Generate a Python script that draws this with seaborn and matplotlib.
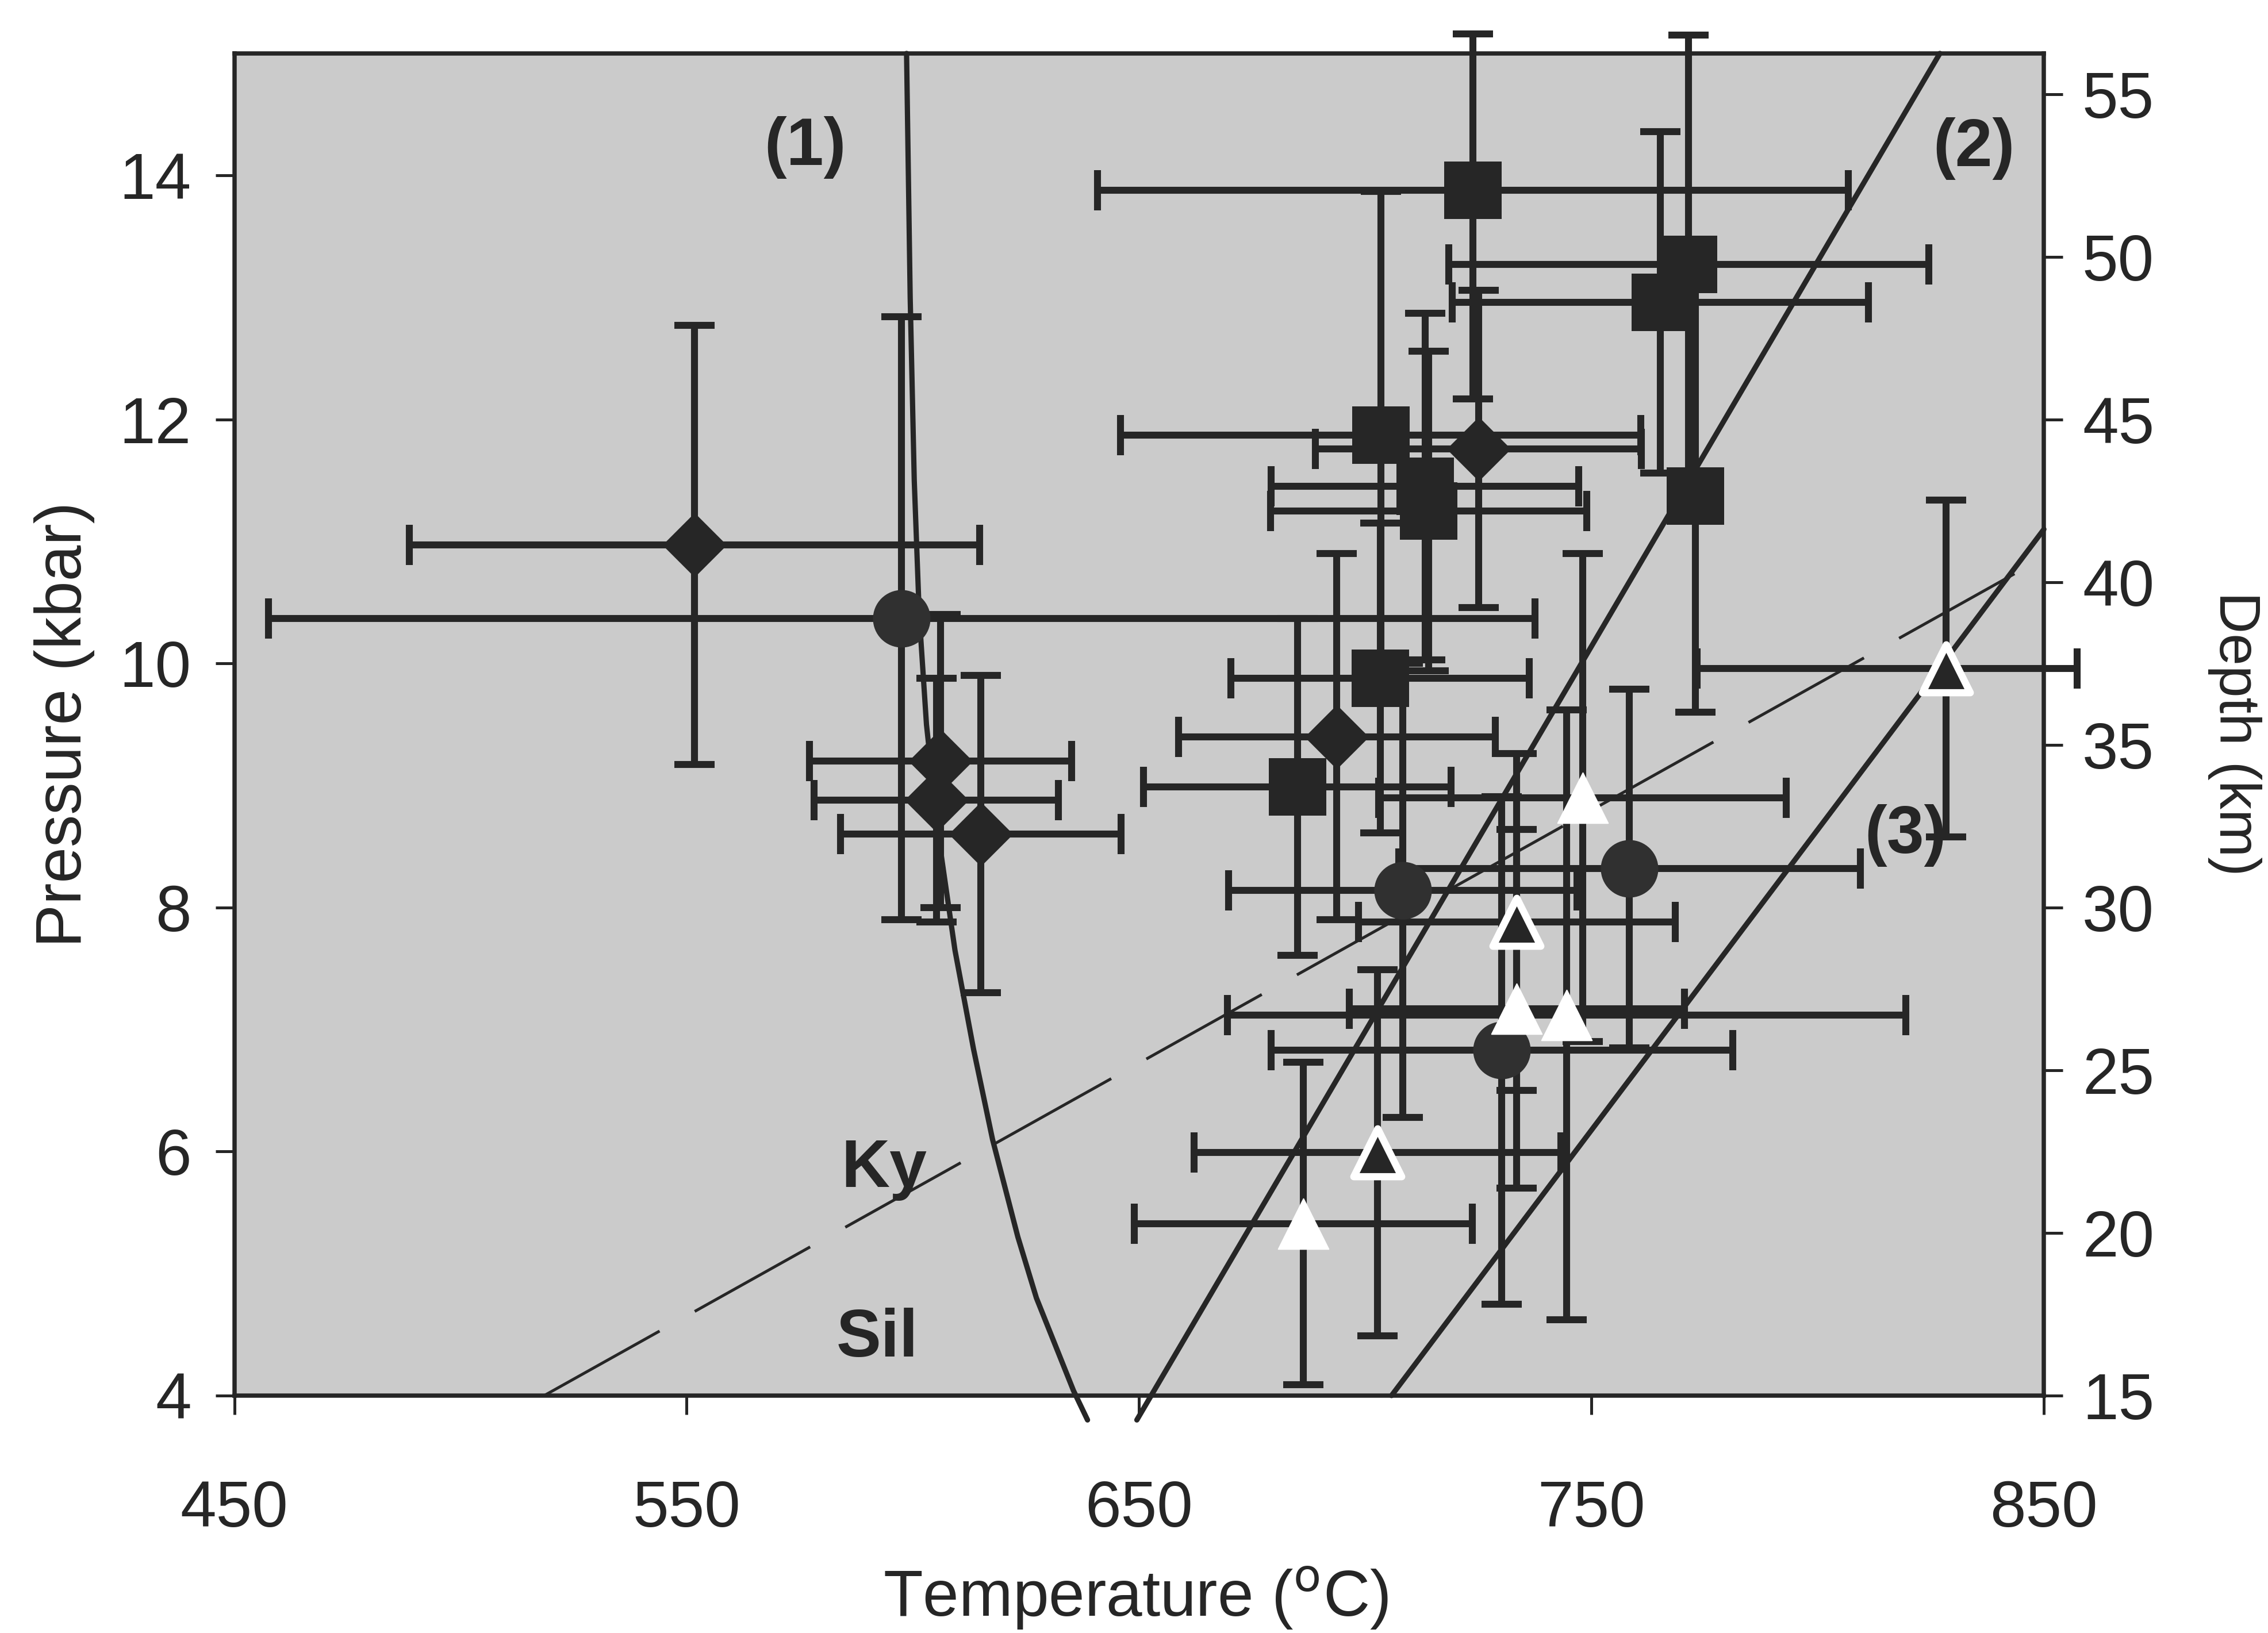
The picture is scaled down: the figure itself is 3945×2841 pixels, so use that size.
import numpy as np
import pandas as pd
import matplotlib
matplotlib.use("Agg")
import matplotlib.pyplot as plt
import seaborn as sns

# ---------------- data ----------------
# diamonds
diamond_T = [551.7, 606.1, 605.2, 615.0, 693.7, 725.0]
diamond_P = [10.97, 9.20, 8.88, 8.60, 9.40, 11.76]
diamond_Terr = [63, 29, 27, 31, 35, 36]
diamond_Perr = [1.8, 1.2, 1.0, 1.3, 1.5, 1.3]

# squares
square_T = [723.8, 771.5, 765.2, 703.4, 713.2, 714.0, 773.0, 703.3, 685.0]
square_P = [13.88, 13.27, 12.96, 11.87, 11.45, 11.25, 11.37, 9.88, 8.99]
square_Terr = [83, 53, 46, 57.5, 34, 35, 0, 33, 34]
square_Perr_lo = [1.71, 1.88, 1.40, 2.00, 1.42, 1.31, 1.77, 1.27, 1.38]
square_Perr_hi = [1.28, 1.88, 1.40, 2.00, 1.42, 1.31, 1.77, 1.27, 1.38]

# circles
circle_T = [597.5, 708.3, 758.4, 730.2]
circle_P = [10.37, 8.14, 8.32, 6.83]
circle_Terr = [140, 38.5, 51, 51]
circle_Perr = [2.47, 1.86, 1.47, 2.08]

# black triangles (white rim)
btri_T = [828.4, 733.5, 702.7]
btri_P = [9.96, 7.88, 5.99]
btri_Terr_lo = [55, 35, 40.5]
btri_Terr_hi = [29, 35, 40.5]
btri_Perr = [1.38, 1.38, 1.50]

# white triangles
wtri_T = [748.0, 733.5, 744.5, 686.3]
wtri_P = [8.90, 7.17, 7.12, 5.41]
wtri_Terr = [45, 37, 75, 37.4]
wtri_Perr = [2.0, 1.47, 2.5, 1.32]

# reference curves
curve1_T = [598.6, 599.4, 600.3, 601.4, 603.0, 605.6, 609.3, 613.4, 617.6, 623.2, 627.3, 635.5, 638.6]
curve1_P = [15.0, 13.0, 11.5, 10.4, 9.5, 8.6, 7.65, 6.84, 6.10, 5.30, 4.80, 4.04, 3.80]
line2_T = [649.5, 827.0]
line2_P = [3.8, 15.0]
line3_T = [705.8, 850.0]
line3_P = [4.0, 11.1]
kysil_T = [518.5, 850.0]
kysil_P = [4.0, 10.87]

x_ticks = [450, 550, 650, 750, 850]
p_ticks = [4, 6, 8, 10, 12, 14]
depth_ticks = [15, 20, 25, 30, 35, 40, 45, 50, 55]
KM_PER_KBAR = 3.75

# ---------------- style ----------------
sns.set_style("ticks")
plt.rcParams['font.family'] = ['Liberation Sans', 'DejaVu Sans']
INK = '#262626'
BG = '#cbcbcb'

W, H, DPI = 3945, 2841, 300
fig = plt.figure(figsize=(W / DPI, H / DPI), dpi=DPI)
ax = fig.add_axes([0.1033, 0.1454, 0.7979, 0.8219])
ax.set_facecolor(BG)

# curves
def curve(Ts, Ps, **kw):
    d = pd.DataFrame({'T': Ts, 'P': Ps})
    sns.lineplot(data=d, x='T', y='P', sort=False, estimator=None, ax=ax,
                 color=INK, legend=False, **kw)
    ln = ax.lines[-1]
    ln.set_clip_on(False)
    return ln

curve(curve1_T, curve1_P, linewidth=2.2, zorder=2)
curve(line2_T, line2_P, linewidth=2.2, zorder=2)
curve(line3_T, line3_P, linewidth=2.2, zorder=2)
dl = curve(kysil_T, kysil_P, linewidth=1.2, zorder=2)
dl.set_dashes((46, 14))

# error bars
def ebars(T, P, xlo, xhi, ylo, yhi):
    c = ax.errorbar(T, P, xerr=[xlo, xhi], yerr=[ylo, yhi], fmt='none',
                    ecolor=INK, elinewidth=2.9, capsize=8.5, capthick=2.9, zorder=3)
    for a in list(c.lines[1]) + list(c.lines[2]):
        a.set_clip_on(False)

ebars(diamond_T, diamond_P, diamond_Terr, diamond_Terr, diamond_Perr, diamond_Perr)
ebars(square_T, square_P, square_Terr, square_Terr, square_Perr_lo, square_Perr_hi)
ebars(circle_T, circle_P, circle_Terr, circle_Terr, circle_Perr, circle_Perr)
ebars(btri_T, btri_P, btri_Terr_lo, btri_Terr_hi, btri_Perr, btri_Perr)
ebars(wtri_T, wtri_P, wtri_Terr, wtri_Terr, wtri_Perr, wtri_Perr)

# markers
def marks(T, P, marker, s, face, edge, lw):
    d = pd.DataFrame({'T': T, 'P': P})
    sns.scatterplot(data=d, x='T', y='P', marker=marker, s=s, color=face,
                    edgecolor=edge, linewidth=lw, ax=ax, zorder=5, legend=False)

marks(square_T, square_P, 's', 24 ** 2, INK, INK, 0)
marks(diamond_T, diamond_P, 'D', 19 ** 2, INK, INK, 0)
marks(circle_T, circle_P, 'o', 24 ** 2, '#303030', '#303030', 0)
marks(wtri_T, wtri_P, '^', 21 ** 2, 'white', 'white', 0.5)
marks(btri_T, btri_P, '^', 20 ** 2, INK, 'white', 3.0)

# annotations
lab_font = dict(family=['Liberation Sans Narrow', 'Liberation Sans', 'DejaVu Sans'],
                fontweight='bold', fontsize=28, color=INK)
ax.text(576.2, 14.23, '(1)', ha='center', va='center', **lab_font)
ax.text(834.5, 14.22, '(2)', ha='center', va='center', **lab_font)
ax.text(819.4, 8.59, '(3)', ha='center', va='center', **lab_font)
ax.text(584.2, 5.71, 'Ky', ha='left', va='baseline', **lab_font)
ax.text(583.1, 4.32, 'Sil', ha='left', va='baseline', **lab_font)

# axes
ax.set_xlim(450, 850)
ax.set_ylim(4, 15)
ax.set_xticks(x_ticks)
ax.set_yticks(p_ticks)
ax.tick_params(axis='x', direction='out', length=8, width=1.2, color=INK,
               labelsize=27, labelcolor=INK, pad=27)
ax.tick_params(axis='y', direction='out', length=8, width=1.2, color=INK,
               labelsize=27, labelcolor=INK, pad=10)
for sp in ax.spines.values():
    sp.set_visible(True)
    sp.set_color(INK)
    sp.set_linewidth(1.8)

ax.set_xlabel('Temperature ($^{\\mathrm{o}}$C)', fontsize=27, color=INK, va='center')
ax.xaxis.set_label_coords(0.498, -0.151)
ax.set_ylabel('Pressure (kbar)', fontsize=27, color=INK, va='center')
ax.yaxis.set_label_coords(-0.094, 0.50)

ax2 = ax.twinx()
ax2.set_ylim(4 * KM_PER_KBAR, 15 * KM_PER_KBAR)
ax2.set_yticks(depth_ticks)
ax2.tick_params(axis='y', direction='out', length=8, width=1.2, color=INK,
                labelsize=27, labelcolor=INK, pad=8)
for sp in ax2.spines.values():
    sp.set_visible(False)
ax2.set_ylabel('Depth (km)', fontsize=24, color=INK, rotation=270, va='center')
ax2.yaxis.set_label_coords(1.1055, 0.493)

fig.savefig('out.png', dpi=DPI, facecolor='white')
